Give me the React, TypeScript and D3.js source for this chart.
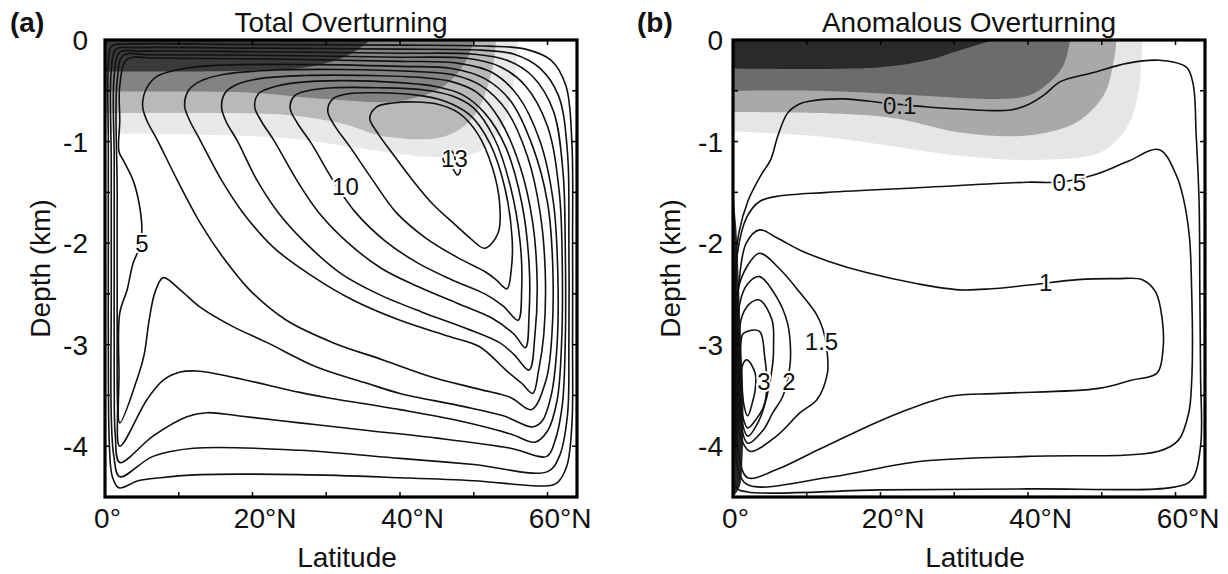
import React from "react";
import * as d3 from "d3";

const W = 1228;
const H = 574;
const FONT = "'Liberation Sans', Arial, Helvetica, sans-serif";

// ---------- axes ----------
const latDomain = [0, 64];
const depthDomain = [0, 4.5];
const latMajorTicks = [0, 20, 40, 60];
const latTickLabels = ["0°", "20°N", "40°N", "60°N"];
const latMinorTicks = [0, 10, 20, 30, 40, 50, 60];
const depthMajorTicks = [0, 1, 2, 3, 4];
const depthTickLabels = ["0", "-1", "-2", "-3", "-4"];
const depthMinorTicks = [0.5, 1, 1.5, 2, 2.5, 3, 3.5, 4];

// ---------- panel (a) Total Overturning : contours [lat, depth km] ----------
const totalLevels = [1, 2, 3, 4, 5, 6, 7, 8, 9, 10, 11, 12, 13];
const total1 = [[0.45,0.25],[0.9,0.06],[3,0.04],[20,0.045],[40,0.05],[52,0.06],[57,0.09],[60.5,0.2],[62.5,0.45],[63.3,1],[63.4,2],[63.4,3],[63.3,3.8],[62.6,4.2],[61.3,4.36],[60,4.39],[50,4.34],[40,4.31],[26.4,4.28],[12.9,4.28],[7.5,4.31],[4.5,4.34],[1.9,4.41],[1.0,4.3],[0.6,4.0],[0.45,3],[0.45,2],[0.45,1]];
const total2 = [[0.85,0.3],[1.5,0.09],[4,0.075],[20,0.08],[40,0.09],[51,0.1],[55.5,0.14],[59,0.28],[61.5,0.55],[62.7,1.1],[62.9,2],[62.9,3],[62.7,3.7],[61.6,4.1],[60,4.25],[50,4.18],[40,4.12],[26.4,4.04],[12,4.02],[6.5,4.1],[2,4.3],[1.2,4.1],[0.85,3.7],[0.85,2.5],[0.85,1.2]];
const total3 = [[1.25,0.35],[2,0.12],[5,0.11],[20,0.115],[40,0.13],[50,0.14],[54.5,0.2],[58,0.36],[60.8,0.7],[62.1,1.3],[62.4,2],[62.4,3],[62,3.6],[61,3.95],[59.9,4.1],[55,4.02],[45,3.92],[35,3.84],[26.4,3.77],[18,3.7],[13.8,3.67],[11.1,3.71],[6.5,3.9],[2,4.16],[1.4,3.9],[1.25,3.3],[1.25,2.2],[1.25,1.2]];
const total4 = [[1.65,0.4],[2.5,0.15],[6,0.145],[20,0.15],[40,0.17],[49,0.18],[53.5,0.26],[57,0.45],[60,0.85],[61.6,1.5],[62,2.2],[61.9,3],[61.3,3.55],[60,3.85],[58.3,3.96],[55,3.88],[48,3.75],[40,3.64],[30,3.52],[26.4,3.47],[17.3,3.32],[12.5,3.26],[10.2,3.27],[7.9,3.35],[5.7,3.54],[2,4.0],[1.7,3.6],[1.65,2.8],[1.65,1.5]];
const total5 = [[2.0,0.45],[3,0.19],[7,0.18],[20,0.185],[40,0.21],[48,0.23],[52.5,0.32],[56,0.55],[59,1.0],[60.8,1.6],[61.4,2.3],[61.3,3.0],[60.5,3.5],[59.3,3.75],[58,3.81],[54,3.7],[48,3.6],[40,3.48],[35.5,3.38],[28.7,3.22],[22,2.98],[17.3,2.82],[12.9,2.63],[10.2,2.46],[7.9,2.34],[6.8,2.48],[6.0,2.75],[5.3,3.1],[4.3,3.35],[2,3.77],[1.9,3.3],[2.0,2.69],[3,2.46],[3.8,2.2],[4.8,2.02],[5,1.85],[4.6,1.6],[3.8,1.38],[2.6,1.2],[1.9,1.1],[2.0,0.8]];
const total6 = [[5.1,0.65],[5.6,0.48],[7,0.36],[10,0.29],[15,0.25],[25,0.24],[40,0.26],[47,0.28],[51.5,0.38],[55,0.6],[58,1.05],[60,1.6],[60.7,2.2],[60.6,2.9],[59.8,3.35],[57.8,3.64],[55,3.52],[50.8,3.44],[44.4,3.32],[37.7,3.15],[30.9,2.98],[24.6,2.76],[19.6,2.46],[16,2.14],[12.9,1.8],[9.8,1.38],[7.2,1.0],[5.6,0.78]];
const total7 = [[10.8,0.65],[11.3,0.5],[12.8,0.41],[16,0.34],[22,0.3],[32,0.29],[42,0.31],[47,0.34],[51,0.45],[54.5,0.7],[57.3,1.15],[59,1.7],[59.7,2.3],[59.5,2.9],[58.8,3.25],[58,3.48],[56.5,3.38],[54.5,3.26],[50.8,3.02],[46.7,2.92],[40,2.76],[33.6,2.56],[28.2,2.33],[22.8,2.04],[18.7,1.7],[15.8,1.38],[13,1.0],[11.4,0.78]];
const total8 = [[15.8,0.66],[16.3,0.52],[17.8,0.44],[21,0.38],[27,0.35],[36,0.35],[43,0.37],[47,0.41],[50.5,0.52],[53.5,0.78],[56.3,1.25],[58,1.8],[58.6,2.4],[58.3,2.9],[57.5,3.25],[55.5,3.1],[53.5,2.98],[49,2.84],[43,2.68],[37,2.5],[32,2.3],[27.5,2.02],[23.5,1.7],[20.6,1.38],[18,1.0],[16.4,0.8]];
const total9 = [[20.3,0.66],[20.8,0.53],[22.5,0.47],[26,0.42],[32,0.4],[40,0.42],[45,0.46],[48.5,0.54],[51.5,0.72],[54.3,1.05],[56.5,1.6],[57.5,2.2],[57.5,2.7],[57,3.03],[55.5,2.9],[52.5,2.74],[48,2.6],[42.5,2.43],[37.5,2.25],[33,2.0],[29,1.7],[26,1.38],[23,1.0],[21.2,0.8]];
const total10 = [[25.1,0.67],[25.7,0.55],[27.5,0.5],[31,0.47],[37,0.47],[43,0.49],[47,0.55],[50,0.67],[52.8,0.97],[55,1.45],[56.3,2.0],[56.5,2.45],[56,2.76],[54,2.62],[51.5,2.5],[47,2.36],[42.5,2.2],[38,1.98],[34,1.7],[30.9,1.38],[28,1.02],[26.1,0.82]];
const total11 = [[30.2,0.7],[30.9,0.58],[33,0.53],[37,0.52],[42,0.54],[46,0.6],[49.5,0.74],[52.2,1.02],[54.2,1.45],[55.2,1.95],[55.1,2.25],[54.5,2.45],[53,2.36],[51.5,2.28],[48,2.15],[43.5,1.95],[39.5,1.7],[36.3,1.38],[33.2,1.05],[31.2,0.85]];
const total12 = [[35.9,0.77],[36.8,0.66],[39,0.62],[42,0.61],[45,0.63],[48,0.72],[50.5,0.92],[52.5,1.25],[53.5,1.6],[53.3,1.9],[51.5,2.05],[49.5,1.95],[47.5,1.82],[44.5,1.62],[41.7,1.38],[39,1.12],[37,0.92]];
const total13 = [[45.8,1.14],[46.5,1.08],[47.3,1.12],[47.6,1.22],[48.2,1.28],[47.8,1.33],[47.0,1.25],[46.2,1.22]];
const totalContours = [total1, total2, total3, total4, total5, total6, total7, total8, total9, total10, total11, total12, total13];

const totalLabelText = ["5", "10", "13"];
const totalLabelLat = [5.0, 32.6, 47.4];
const totalLabelDepth = [2.0, 1.44, 1.17];

// shading boundaries (from top edge going west), lightest -> darkest
const totalShadeLightest = [[56,0],[55.5,0.4],[53.5,0.9],[50,1.12],[44,1.15],[36,1.08],[25,0.97],[12,0.93],[0,0.92]];
const totalShadeLight = [[53,0],[52.5,0.3],[50,0.75],[46,0.95],[38,0.95],[32,0.82],[25,0.74],[10,0.72],[0,0.72]];
const totalShadeDark = [[50,0],[49,0.2],[46,0.45],[40,0.6],[30,0.58],[20,0.52],[0,0.51]];
const totalShadeDarkest = [[36,0],[33,0.15],[28,0.26],[20,0.3],[0,0.31]];
const totalShades = [totalShadeLightest, totalShadeLight, totalShadeDark, totalShadeDarkest];
const totalWallShade: number[][] = [];

// ---------- panel (b) Anomalous Overturning ----------
const anomLevels = [0.1, 0.5, 1, 1.5, 2, 2.5, 3, 3.5];
const anom01 = [[0.25,2.3],[0.8,1.9],[2,1.59],[3.8,1.33],[5.1,1.18],[6.1,0.94],[7.4,0.72],[9,0.63],[10.5,0.6],[15,0.58],[20.5,0.62],[26.4,0.66],[30.8,0.68],[37.6,0.69],[39.9,0.64],[42.2,0.54],[44.4,0.41],[48.9,0.32],[53.4,0.23],[57.8,0.2],[61.5,0.27],[62.4,0.44],[62.8,0.93],[63.2,1.6],[63.3,2.5],[63.4,3.3],[63.4,4.0],[62.2,4.33],[60,4.4],[40,4.42],[20,4.43],[2,4.45],[0.4,4.4],[0.25,3.5]];
const anom05 = [[0.35,2.6],[0.6,2.1],[1.9,1.74],[3.6,1.59],[5.9,1.54],[12.8,1.5],[26.4,1.45],[39.9,1.4],[44.3,1.4],[48.9,1.33],[53.4,1.2],[57.8,1.08],[60.1,1.33],[61.1,1.57],[61.9,1.95],[62.2,2.5],[62.3,3.0],[62.2,3.35],[61.8,3.67],[60.4,3.94],[57.7,4.05],[40,4.1],[25.3,4.15],[13.5,4.3],[2,4.38],[0.6,4.2],[0.35,3.6]];
const anom1 = [[0.45,3.0],[0.8,2.4],[1.8,2.0],[3.6,1.87],[6,1.95],[9.1,2.07],[13,2.18],[18.1,2.29],[25,2.4],[30.7,2.46],[35,2.45],[40.5,2.41],[46.8,2.36],[52,2.35],[55.5,2.36],[57.3,2.48],[58.2,2.75],[58.3,3.05],[57.5,3.28],[54,3.35],[49.6,3.43],[36.1,3.48],[29.3,3.51],[22.6,3.67],[18.1,3.81],[11.4,4.04],[5.9,4.23],[2,4.31],[0.8,4.1],[0.45,3.6]];
const anom15 = [[0.6,3.0],[0.7,2.46],[1.9,2.23],[3.6,2.1],[6.4,2.26],[9.1,2.49],[11.3,2.7],[12.2,2.85],[12.8,3.1],[12.8,3.28],[11.4,3.54],[9.1,3.67],[5.9,3.9],[2.3,4.05],[1.0,3.9],[0.6,3.5]];
const anom2 = [[0.75,3.0],[0.9,2.6],[2,2.4],[3.6,2.33],[5.9,2.53],[7.4,2.79],[7.8,3.05],[7.7,3.22],[6.8,3.5],[5.4,3.67],[4.1,3.84],[2,3.97],[1.1,3.8],[0.75,3.4]];
const anom25 = [[0.9,3.0],[1.1,2.75],[2.2,2.6],[3.6,2.56],[5.3,2.76],[5.5,3.0],[5.4,3.18],[4.6,3.51],[3.5,3.75],[2,3.9],[1.2,3.75],[0.9,3.35]];
const anom3 = [[1.05,3.0],[1.3,2.9],[1.9,2.87],[3.6,2.87],[4.3,3.12],[4.6,3.4],[4.2,3.6],[3,3.75],[2,3.82],[1.3,3.7],[1.05,3.35]];
const anom35 = [[1.3,3.2],[1.9,3.15],[3,3.28],[3,3.45],[2.7,3.55],[2,3.7],[1.5,3.6]];
const anomContours = [anom01, anom05, anom1, anom15, anom2, anom25, anom3, anom35];

const anomLabelText = ["0.1", "0.5", "1", "1.5", "2", "3"];
const anomLabelLat = [22.6, 45.6, 42.4, 12.0, 7.6, 4.2];
const anomLabelDepth = [0.64, 1.4, 2.39, 2.97, 3.36, 3.36];

const anomShadeLightest = [[55.5,0],[55,0.5],[53.5,0.85],[50,1.1],[42,1.18],[32,1.15],[22,1.05],[12,0.95],[0,0.9]];
const anomShadeLight = [[52,0],[51.6,0.22],[50.3,0.54],[46.6,0.81],[39.9,0.94],[30.8,0.91],[21.9,0.77],[12,0.72],[0,0.71]];
const anomShadeDark = [[45.7,0],[44.8,0.25],[42.5,0.44],[40,0.55],[35,0.58],[26,0.55],[12,0.5],[0,0.5]];
const anomShadeDarkest = [[35.4,0],[30.8,0.1],[26.3,0.2],[19.6,0.27],[0,0.28]];
const anomShades = [anomShadeLightest, anomShadeLight, anomShadeDark, anomShadeDarkest];
// dense western boundary band (deep)
const anomWallShade = [[0,1.5],[0.4,1.8],[0.8,2.4],[1.1,3.0],[1.4,3.5],[1.3,4.1],[0.9,4.4],[0,4.5]];

// ---------- layout ----------
const Y0 = 40;
const Y1 = 497;

const panelDefs = [
  {
    id: "a", x0: 105, x1: 577, tag: "(a)", tagX: 10, title: "Total Overturning",
    contours: totalContours, shades: totalShades, wall: totalWallShade,
    shadeColors: ["#e9e9e9", "#b9b9b9", "#838383", "#3a3a3a"],
    labelText: totalLabelText, labelLat: totalLabelLat, labelDepth: totalLabelDepth,
    yLabelRight: 88, depthTitleX: 50,
  },
  {
    id: "b", x0: 733, x1: 1205, tag: "(b)", tagX: 637, title: "Anomalous Overturning",
    contours: anomContours, shades: anomShades, wall: anomWallShade,
    shadeColors: ["#e6e6e6", "#a9a9a9", "#6c6c6c", "#2a2a2a"],
    labelText: anomLabelText, labelLat: anomLabelLat, labelDepth: anomLabelDepth,
    yLabelRight: 723, depthTitleX: 680,
  },
];

function Panel({ p }: { p: any }) {
  const x = d3.scaleLinear().domain(latDomain).range([p.x0, p.x1]);
  const y = d3.scaleLinear().domain(depthDomain).range([Y0, Y1]);
  const clipId = "clip-" + p.id;

  const closed = d3
    .line<number[]>()
    .x((d) => x(d[0]))
    .y((d) => y(d[1]))
    .curve(d3.curveCatmullRomClosed.alpha(0.5));
  const open = d3
    .line<number[]>()
    .x((d) => x(d[0]))
    .y((d) => y(d[1]))
    .curve(d3.curveCatmullRom.alpha(0.5));

  const shadePath = (b: number[][]) => {
    const first = b[0];
    const last = b[b.length - 1];
    return (
      open(b) +
      `L${x(-2)},${y(last[1])}L${x(-2)},${y(-0.3)}L${x(first[0])},${y(-0.3)}Z`
    );
  };

  const shadePoly = (b: number[][]) => {
    const first = b[0];
    const last = b[b.length - 1];
    return [...b, [-2, last[1]], [-2, -0.3], [first[0], -0.3]] as [number, number][];
  };

  const haloFor = (lat: number, dep: number) => {
    for (let i = p.shades.length - 1; i >= 0; i--) {
      if (d3.polygonContains(shadePoly(p.shades[i]), [lat, dep])) return p.shadeColors[i];
    }
    return "#ffffff";
  };

  const cx = (p.x0 + p.x1) / 2;

  return (
    <g>
      <defs>
        <clipPath id={clipId}>
          <rect x={p.x0} y={Y0} width={p.x1 - p.x0} height={Y1 - Y0} />
        </clipPath>
      </defs>
      <g clipPath={`url(#${clipId})`}>
        {p.shades.map((b: number[][], i: number) => (
          <path key={"s" + i} d={shadePath(b)} fill={p.shadeColors[i]} stroke="none" />
        ))}
        {p.wall.length > 0 && (
          <path
            d={
              open(p.wall) +
              `L${x(-2)},${y(p.wall[p.wall.length - 1][1])}L${x(-2)},${y(p.wall[0][1])}Z`
            }
            fill="#262626"
            stroke="none"
          />
        )}
        {p.contours.map((c: number[][], i: number) => (
          <path key={"c" + i} d={closed(c) || ""} fill="none" stroke="#111" strokeWidth={1.6} strokeLinejoin="round" />
        ))}
        {p.labelText.map((t: string, i: number) => (
          <text
            key={"l" + i}
            x={x(p.labelLat[i])}
            y={y(p.labelDepth[i])}
            dy="0.36em"
            textAnchor="middle"
            fontFamily={FONT}
            fontSize={24}
            fill="#111"
            stroke={haloFor(p.labelLat[i], p.labelDepth[i])}
            strokeWidth={4}
            paintOrder="stroke"
          >
            {t}
          </text>
        ))}
      </g>
      {/* ticks */}
      {latMinorTicks.map((t) => (
        <g key={"lt" + t}>
          <line x1={x(t)} x2={x(t)} y1={Y1} y2={Y1 - 5} stroke="#000" strokeWidth={1.5} />
          <line x1={x(t)} x2={x(t)} y1={Y0} y2={Y0 + 5} stroke="#000" strokeWidth={1.5} />
        </g>
      ))}
      {depthMinorTicks.map((t) => (
        <g key={"dt" + t}>
          <line x1={p.x0} x2={p.x0 + 5} y1={y(t)} y2={y(t)} stroke="#000" strokeWidth={1.5} />
          <line x1={p.x1} x2={p.x1 - 5} y1={y(t)} y2={y(t)} stroke="#000" strokeWidth={1.5} />
        </g>
      ))}
      <rect x={p.x0} y={Y0} width={p.x1 - p.x0} height={Y1 - Y0} fill="none" stroke="#000" strokeWidth={3.2} />
      {/* x tick labels */}
      {latMajorTicks.map((t, i) => {
        const lab = latTickLabels[i];
        const num = lab.replace(/N$/, "").replace("°", "");
        const off = (num.length * 0.556 * 28 + 0.4 * 28) / 2 - 2.5;
        return (
          <text key={"xl" + t} x={x(t) - off} y={528} fontFamily={FONT} fontSize={28} fill="#111">
            {lab}
          </text>
        );
      })}
      {/* y tick labels */}
      {depthMajorTicks.map((t, i) => (
        <text key={"yl" + t} x={p.yLabelRight} y={y(t) + 10} textAnchor="end" fontFamily={FONT} fontSize={28} fill="#111">
          {depthTickLabels[i]}
        </text>
      ))}
      <text x={cx + 6} y={567} textAnchor="middle" fontFamily={FONT} fontSize={28} fill="#111">
        Latitude
      </text>
      <text
        transform={`translate(${p.depthTitleX},${(Y0 + Y1) / 2}) rotate(-90)`}
        textAnchor="middle"
        fontFamily={FONT}
        fontSize={28}
        fill="#111"
      >
        Depth (km)
      </text>
      <text x={cx} y={32} textAnchor="middle" fontFamily={FONT} fontSize={28} fill="#111">
        {p.title}
      </text>
      <text x={p.tagX} y={32} fontFamily={FONT} fontSize={28} fontWeight="bold" fill="#111">
        {p.tag}
      </text>
    </g>
  );
}

export default function App() {
  return (
    <svg width={W} height={H} viewBox={`0 0 ${W} ${H}`} style={{ display: "block", position: "absolute", left: 0, top: 0, background: "#fff" }}>
      <rect x={0} y={0} width={W} height={H} fill="#fff" />
      {panelDefs.map((p) => (
        <Panel key={p.id} p={p} />
      ))}
    </svg>
  );
}
